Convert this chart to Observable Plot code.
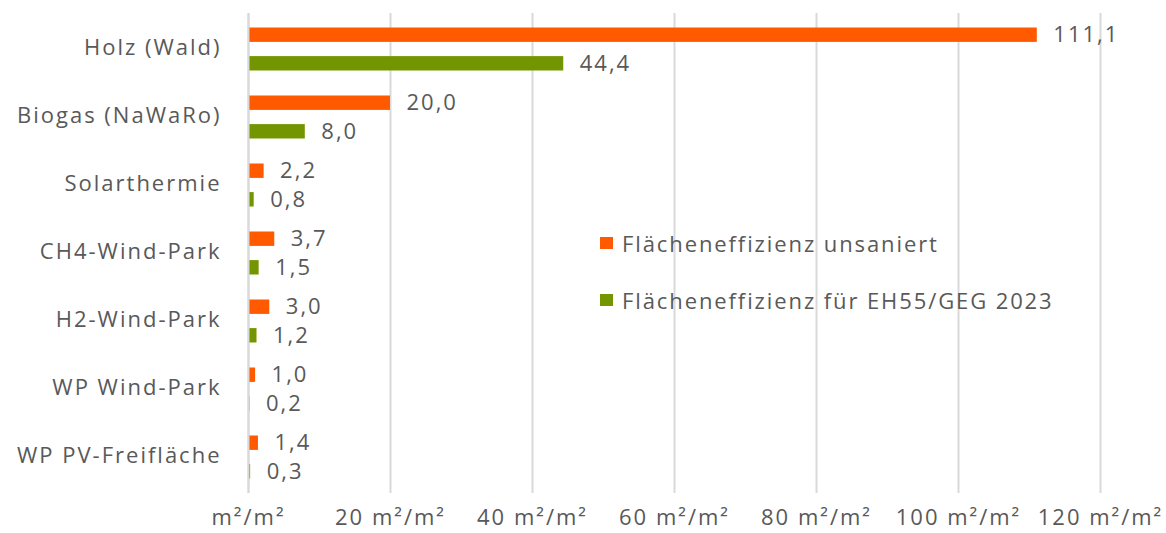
<!DOCTYPE html>
<html>
<head>
<meta charset="utf-8">
<script src="https://cdn.jsdelivr.net/npm/d3@7"></script>
<script src="https://cdn.jsdelivr.net/npm/@observablehq/plot@0.6"></script>
<style>
  html, body { margin: 0; padding: 0; background: #fff; }
  #wrap { position: relative; width: 1166px; height: 533px; font-family: "Open Sans", sans-serif; }
  #wrap svg text { letter-spacing: 2px; }
  .legend { position: absolute; left: 600px; font-size: 22px; letter-spacing: 1.9px; color: #595959; display: flex; align-items: center; white-space: nowrap; }
  .sw { width: 13px; height: 12px; margin-right: 9px; display: inline-block; }
</style>
</head>
<body>
<div id="wrap"></div>
<script>
const categories = ["Holz (Wald)", "Biogas (NaWaRo)", "Solarthermie", "CH4-Wind-Park", "H2-Wind-Park", "WP Wind-Park", "WP PV-Freifläche"];
const unsaniert = [111.1, 20.0, 2.2, 3.7, 3.0, 1.0, 1.4];
const eh55 = [44.4, 8.0, 0.8, 1.5, 1.2, 0.2, 0.3];
const seriesNames = ["Flächeneffizienz unsaniert", "Flächeneffizienz für EH55/GEG 2023"];
const seriesColors = ["#ff5a00", "#739600"];
const xTicks = [0, 20, 40, 60, 80, 100, 120];

const dataA = categories.map((c, i) => ({cat: c, v: unsaniert[i]}));
const dataB = categories.map((c, i) => ({cat: c, v: eh55[i]}));
const fmt = d => d.toFixed(1).replace(".", ",");
const textColor = "#595959";
const fs = 22;

const chart = Plot.plot({
  width: 1166,
  height: 533,
  marginLeft: 248,
  marginRight: 66,
  marginTop: 13,
  marginBottom: 40,
  style: {fontFamily: "Open Sans, sans-serif", fontSize: fs + "px", color: textColor, background: "#fff"},
  x: {domain: [0, 120], ticks: xTicks},
  y: {domain: categories, padding: 0},
  marks: [
    Plot.gridX(xTicks, {stroke: "#d9d9d9", strokeOpacity: 1, strokeWidth: 2}),
    Plot.axisX({ticks: xTicks, tickSize: 0, tickPadding: 16, fill: textColor, fontSize: fs,
      tickFormat: d => d === 0 ? "m²/m²" : `${d} m²/m²`, label: null}),
    Plot.axisY({tickSize: 0, tickPadding: 27, fill: textColor, fontSize: fs, label: null, dy: -2}),
    Plot.barX(dataA, {x: "v", y: "cat", fill: seriesColors[0], insetTop: 26.8, insetBottom: 26.8, dy: -14.3}),
    Plot.barX(dataB, {x: "v", y: "cat", fill: seriesColors[1], insetTop: 26.8, insetBottom: 26.8, dy: 14.3}),
    Plot.ruleX([0], {stroke: "#d9d9d9", strokeWidth: 2}),
    Plot.text(dataA, {x: "v", y: "cat", text: d => fmt(d.v), dy: -14.3, dx: 16, textAnchor: "start", fill: textColor, fontSize: fs}),
    Plot.text(dataB, {x: "v", y: "cat", text: d => fmt(d.v), dy: 14.3, dx: 16, textAnchor: "start", fill: textColor, fontSize: fs})
  ]
});
const wrap = document.getElementById("wrap");
wrap.appendChild(chart);
const tops = [228, 285];
seriesNames.forEach((n, i) => {
  const d = document.createElement("div");
  d.className = "legend";
  d.style.top = tops[i] + "px";
  d.innerHTML = `<span class="sw" style="background:${seriesColors[i]}"></span><span>${n}</span>`;
  wrap.appendChild(d);
});
</script>
</body>
</html>
